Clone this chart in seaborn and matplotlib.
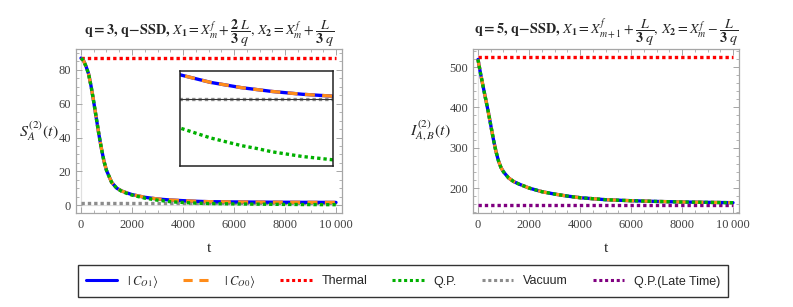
import matplotlib
matplotlib.use("Agg")
import matplotlib.pyplot as plt
import seaborn as sns
import numpy as np
import pandas as pd
from matplotlib.ticker import MultipleLocator, FuncFormatter
from matplotlib.lines import Line2D

# ---------------- data ----------------
t_left = [0, 100, 200, 300, 400, 500, 600, 700, 800, 900, 1000, 1200, 1400, 1600,
          1800, 2000, 2500, 3000, 3500, 4000, 4500, 5000, 6000, 7000, 7500, 8000, 9000, 10000]
s_co1 = [87, 85.5, 82, 77.5, 70, 61, 51.5, 42, 33.5, 26, 20.5, 13.5, 10, 8.3,
         7.2, 6.2, 4.6, 3.6, 3.0, 2.6, 2.25, 2.01, 1.85, 1.74, 1.70, 1.66, 1.60, 1.56]
s_co0 = s_co1
s_qp = [87, 85.5, 82, 77.5, 70, 61, 51.5, 42, 33.5, 26, 20.5, 13.5, 10, 8.1,
        6.9, 5.9, 4.1, 2.9, 2.0, 1.5, 1.15, 0.89, 0.68, 0.52, 0.46, 0.39, 0.29, 0.22]
s_thermal = 87.0
s_vacuum = 1.5

t_right = [0, 100, 200, 300, 400, 500, 600, 700, 800, 900, 1000, 1200, 1400, 1600,
           1800, 2000, 2500, 3000, 3500, 4000, 5000, 6000, 7000, 8000, 9000, 10000]
i_co1 = [519, 484, 452, 421, 390, 356, 322, 292, 268, 251, 240, 225, 216, 210,
         205, 200, 191, 185, 180, 176, 171, 168.5, 166.7, 165.3, 164.4, 163.6]
i_co0 = i_co1
i_qp = i_co1
i_thermal = 525.0
i_qp_late = 158.0

t_span = [0, 10000]

# ---------------- style ----------------
sns.set_style("ticks")
plt.rcParams["mathtext.fontset"] = "stix"
plt.rcParams["font.family"] = ["Liberation Serif", "DejaVu Serif"]

C_BLUE = "#0000ff"
C_ORANGE = "#ff8c1a"
C_RED = "#ff0000"
C_GREEN = "#00b000"
C_GRAY = "#8c8c8c"
C_PURPLE = "#800080"
FRAME = "#a6a6a6"
TICKTXT = "#404040"

DOT = (0, (1.0, 0.9))
DASH = (0, (3.0, 2.2))

fig = plt.figure(figsize=(7.93, 3.07), dpi=100)
axL = fig.add_axes([76 / 793, 1 - 213 / 307, 266 / 793, 164 / 307])
axR = fig.add_axes([473 / 793, 1 - 213 / 307, 266 / 793, 164 / 307])


def fmt_x(v, pos):
    v = int(round(v))
    if v >= 10000:
        return "10\u2009000"
    return str(v)


def style_axes(ax, ylim, ymaj, ymin):
    ax.set_xlim(-196, 10235)
    ax.set_ylim(*ylim)
    ax.xaxis.set_major_locator(MultipleLocator(2000))
    ax.xaxis.set_minor_locator(MultipleLocator(500))
    ax.yaxis.set_major_locator(ymaj)
    ax.yaxis.set_minor_locator(MultipleLocator(ymin))
    ax.xaxis.set_major_formatter(FuncFormatter(fmt_x))
    for s in ax.spines.values():
        s.set_visible(True)
        s.set_color(FRAME)
        s.set_linewidth(0.9)
    ax.tick_params(which="both", direction="in", top=True, right=True,
                   color=FRAME, labelcolor=TICKTXT, labelsize=9)
    ax.tick_params(which="major", length=4, width=0.7)
    ax.tick_params(which="minor", length=2, width=0.6)
    ax.tick_params(axis="x", pad=4)
    ax.axvline(0, color="#e0e0e0", lw=0.9, zorder=0)
    ax.set_xlabel("t", fontsize=11, labelpad=8)


TITLE_KW = dict(fontsize=10.2, pad=3)

# ---------------- left panel ----------------
sns.lineplot(x=t_span, y=[s_thermal, s_thermal], ax=axL, color=C_RED, lw=2.4, linestyle=DOT)
sns.lineplot(x=t_span, y=[s_vacuum, s_vacuum], ax=axL, color=C_GRAY, lw=2.4, linestyle=DOT)
sns.lineplot(x=t_left, y=s_co1, ax=axL, color=C_BLUE, lw=2.4)
sns.lineplot(x=t_left, y=s_co0, ax=axL, color=C_ORANGE, lw=2.4, linestyle=DASH)
sns.lineplot(x=t_left, y=s_qp, ax=axL, color=C_GREEN, lw=2.4, linestyle=DOT)
axL.axhline(0, color="#e0e0e0", lw=0.9, zorder=0)
style_axes(axL, (-4.7, 92.4), MultipleLocator(20), 5)
axL.set_ylabel(r"$S_A^{(2)}(t)$", rotation=0, fontsize=11.5, labelpad=14, va="center")
axL.set_title(r"$\mathbf{q{=}3,\,q{-}SSD,}\,X_{\mathbf{1}}=X_m^f+\dfrac{\mathbf{2}\;L}{\mathbf{3}\;q},"
              r"\,X_{\mathbf{2}}=X_m^f+\dfrac{L}{\mathbf{3}\;q}$", **TITLE_KW)

# inset
axI = fig.add_axes([180 / 793, 1 - 166 / 307, 153 / 793, 95 / 307])
sns.lineplot(x=t_span, y=[s_vacuum, s_vacuum], ax=axI, color=C_GRAY, lw=2.4, linestyle=DOT)
axI.axhline(s_vacuum, color="#333333", lw=0.8)
sns.lineplot(x=t_left, y=s_co1, ax=axI, color=C_BLUE, lw=2.4)
sns.lineplot(x=t_left, y=s_co0, ax=axI, color=C_ORANGE, lw=2.4, linestyle=DASH)
sns.lineplot(x=t_left, y=s_qp, ax=axI, color=C_GREEN, lw=2.4, linestyle=DOT)
axI.set_xlim(5000, 10000)
axI.set_ylim(0.09, 2.09)
axI.set_xticks([])
axI.set_yticks([])
axI.set_xlabel("")
axI.set_ylabel("")
for s in axI.spines.values():
    s.set_visible(True)
    s.set_color("#222222")
    s.set_linewidth(1.1)

# ---------------- right panel ----------------
sns.lineplot(x=t_span, y=[i_thermal, i_thermal], ax=axR, color=C_RED, lw=2.4, linestyle=DOT)
sns.lineplot(x=t_span, y=[i_qp_late, i_qp_late], ax=axR, color=C_PURPLE, lw=2.4, linestyle=DOT)
sns.lineplot(x=t_right, y=i_co1, ax=axR, color=C_BLUE, lw=2.4)
sns.lineplot(x=t_right, y=i_co0, ax=axR, color=C_ORANGE, lw=2.4, linestyle=DASH)
sns.lineplot(x=t_right, y=i_qp, ax=axR, color=C_GREEN, lw=2.4, linestyle=DOT)
style_axes(axR, (138, 545), MultipleLocator(100), 20)
axR.set_ylabel(r"$I_{A,B}^{(2)}(t)$", rotation=0, fontsize=11.5, labelpad=14, va="center")
axR.set_title(r"$\mathbf{q{=}5,\,q{-}SSD,}\,X_{\mathbf{1}}=X_{m+1}^f+\dfrac{L}{\mathbf{3}\;q},"
              r"\,X_{\mathbf{2}}=X_m^f-\dfrac{L}{\mathbf{3}\;q}$", **TITLE_KW)

# ---------------- legend ----------------
handles = [
    Line2D([], [], color=C_BLUE, lw=2.2),
    Line2D([], [], color=C_ORANGE, lw=2.2, linestyle=DASH),
    Line2D([], [], color=C_RED, lw=2.2, linestyle=DOT),
    Line2D([], [], color=C_GREEN, lw=2.2, linestyle=DOT),
    Line2D([], [], color=C_GRAY, lw=2.2, linestyle=DOT),
    Line2D([], [], color=C_PURPLE, lw=2.2, linestyle=DOT),
]
labels = [r"$|\ C_{O1}\rangle$", r"$|\ C_{O0}\rangle$", "Thermal", "Q.P.", "Vacuum", "Q.P.(Late Time)"]
leg = fig.legend(handles, labels, loc="center", bbox_to_anchor=(403 / 793, 1 - 281 / 307),
                 ncol=6, frameon=True, fancybox=False, edgecolor="black",
                 handlelength=2.5, handletextpad=0.8, columnspacing=2.0,
                 borderpad=0.6, prop={"family": ["Liberation Sans", "DejaVu Sans"], "size": 9})
leg.get_frame().set_linewidth(1.0)

fig.savefig("out.png", dpi=100)
